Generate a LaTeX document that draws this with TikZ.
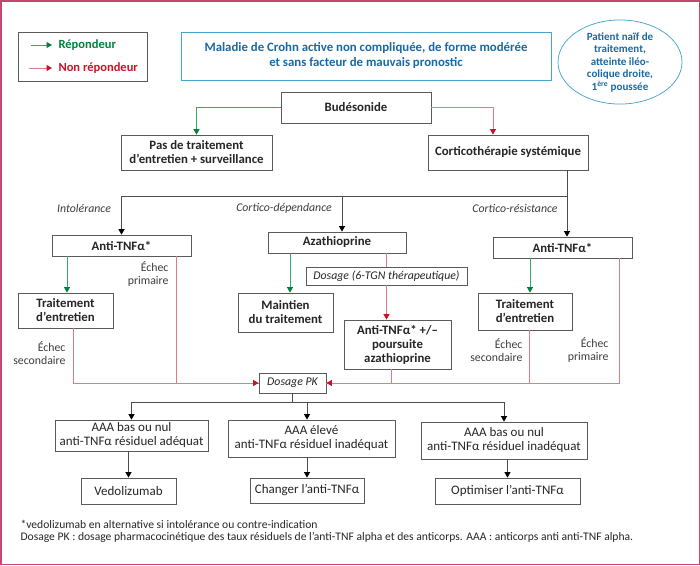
\documentclass[tikz,border=0pt]{standalone}
\usepackage{fontspec}
\setmainfont{Carlito}
\usetikzlibrary{arrows.meta, positioning, shapes.geometric, calc}

\definecolor{framecol}{RGB}{200,70,110}
\definecolor{boxgray}{RGB}{90,90,90}
\definecolor{titleline}{RGB}{70,165,205}
\definecolor{titletext}{RGB}{25,105,165}
\definecolor{greenline}{RGB}{60,165,100}
\definecolor{greentip}{RGB}{0,130,60}
\definecolor{redline}{RGB}{230,120,135}
\definecolor{redtip}{RGB}{200,20,40}
\definecolor{labtext}{RGB}{60,60,60}

\begin{document}
\begin{tikzpicture}[x=1pt,y=-1pt,>={Triangle[width=6pt,length=5.5pt]},
    box/.style={draw=boxgray,fill=white,line width=0.75pt,align=center,inner sep=0pt,
      text=black!85,font=\bfseries\fontsize{12.8}{14}\selectfont},
    res/.style={box,font=\fontsize{13}{14}\selectfont},
    dos/.style={box,font=\itshape\fontsize{11.8}{12}\selectfont},
    lab/.style={font=\itshape\fontsize{11.8}{12}\selectfont,text=labtext},
    ech/.style={anchor=east,align=right,font=\fontsize{11.8}{12.5}\selectfont,text=labtext},
    gline/.style={draw=greenline,line width=0.9pt,-{Triangle[width=6pt,length=5.5pt,color=greentip]}},
    rline/.style={draw=redline,line width=0.9pt},
    rarr/.style={rline,-{Triangle[width=6pt,length=5.5pt,color=redtip]}},
    kline/.style={draw=black!70,line width=0.9pt},
    karr/.style={kline,-{Triangle[width=6pt,length=5.5pt,color=black]}}]

    % frame of the figure
    \useasboundingbox (0,0) rectangle (700,565);
    \draw[framecol,line width=1.5pt] (0.75,0.75) rectangle (699.25,564.25);

    % legend
    \node[box,minimum width=129pt,minimum height=49pt] (leg) at (82.5,56.5) {};
    \node[anchor=west,font=\bfseries\fontsize{12.5}{13.5}\selectfont,text=greentip] (lgr) at (55,45) {Répondeur};
    \node[anchor=west,font=\bfseries\fontsize{12.5}{13.5}\selectfont,text=redtip] (lrd) at (55,68) {Non répondeur};
    \draw[gline] ([xshift=-24pt]lgr.west) -- ([xshift=-3pt]lgr.west);
    \draw[rarr] ([xshift=-26pt]lrd.west) -- ([xshift=-3pt]lrd.west);

    % title and patient
    \node[box,draw=titleline,text=titletext,minimum width=370pt,minimum height=48pt,
      font=\bfseries\fontsize{12.8}{15}\selectfont] (title) at (366,56)
      {Maladie de Crohn active non compliquée, de forme modérée\\et sans facteur de mauvais pronostic};
    \node[ellipse,draw=titleline,line width=0.75pt,text=titletext,minimum width=124pt,minimum height=78pt,
      inner sep=0pt,align=center,font=\bfseries\fontsize{11}{12.5}\selectfont] (pat) at (620,62)
      {Patient naïf de\\traitement,\\atteinte iléo-\\colique droite,\\1\textsuperscript{ère} poussée};

    % first line of treatment
    \node[box,minimum width=150pt,minimum height=31pt] (bud) at (356,107.5) {Budésonide};
    \node[box,minimum width=151pt,minimum height=35pt] (pas) at (196.5,152.5) {Pas de traitement\\d’entretien + surveillance};
    \node[box,minimum width=160pt,minimum height=35pt] (cort) at (508,152.5) {Corticothérapie systémique};
    \draw[gline] (bud.west) -| (pas.north);
    \draw[rarr] (bud.east) -| ([xshift=-15pt]cort.north);

    % second line of treatment
    \node[box,minimum width=139pt,minimum height=21pt] (atnfL) at (121.5,245.5) {Anti-TNFα*};
    \node[box,minimum width=138pt,minimum height=21pt] (aza) at (337,242.5) {Azathioprine};
    \node[box,minimum width=139pt,minimum height=21pt] (atnfR) at (562.5,247.5) {Anti-TNFα*};
    \coordinate (split) at (567,196);
    \draw[kline] (cort.south -| split) -- (split);
    \draw[karr] (split) -| (atnfL.north);
    \draw[karr] (split) -| ([xshift=5pt]aza.north);
    \draw[karr] (split) -- (split |- atnfR.north);
    \node[lab] (intol) at (84,208) {Intolérance};
    \node[lab] (cdep) at (284,208) {Cortico-dépendance};
    \node[lab] (cres) at (515,208) {Cortico-résistance};

    % left branch
    \node[box,minimum width=95pt,minimum height=35pt] (entL) at (65.5,310.5) {Traitement\\d’entretien};
    \draw[gline] ([xshift=1.5pt]entL.north |- atnfL.south) -- ([xshift=1.5pt]entL.north);

    % middle branch
    \node[box,minimum width=95pt,minimum height=39pt] (maint) at (285.5,312.5) {Maintien\\du traitement};
    \node[dos,minimum width=161pt,minimum height=18pt] (tgn) at (386.5,276) {Dosage (6-TGN thérapeutique)};
    \node[box,minimum width=107pt,minimum height=49pt] (atnfaza) at (397.5,344.5) {Anti-TNFα* +/–\\poursuite\\azathioprine};
    \draw[gline] ([xshift=4.5pt]maint.north |- aza.south) -- ([xshift=4.5pt]maint.north);
    \draw[rline] (tgn.north |- aza.south) -- (tgn.north);
    \draw[rarr] (tgn.south) -- (tgn.south |- atnfaza.north);

    % right branch
    \node[box,minimum width=94pt,minimum height=37pt] (entR) at (525,311.5) {Traitement\\d’entretien};
    \draw[gline] ([xshift=5pt]entR.north |- atnfR.south) -- ([xshift=5pt]entR.north);

    % failures go to the dosage
    \node[dos,minimum width=67pt,minimum height=20pt] (pk) at (292.5,383) {Dosage PK};
    \draw[rline] ([xshift=7.5pt]entL.south) |- (pk.west);
    \draw[rarr] ([xshift=54.5pt]atnfL.south) |- (pk.west);
    \draw[rline] ([xshift=-6.5pt]atnfaza.south) |- (pk.east);
    \draw[rline] ([xshift=4pt]entR.south) |- (pk.east);
    \draw[rarr] ([xshift=56.5pt]atnfR.south) |- (pk.east);
    \node[ech] (e1) at (69,353) {Échec\\secondaire};
    \node[ech] (e2) at (172,274) {Échec\\primaire};
    \node[ech] (e3) at (526,350) {Échec\\secondaire};
    \node[ech] (e4) at (612,350) {Échec\\primaire};

    % results of the dosage
    \node[res,minimum width=153pt,minimum height=31pt] (aaa1) at (131.5,435.5) {AAA bas ou nul\\anti-TNFα résiduel adéquat};
    \node[res,minimum width=167pt,minimum height=37pt] (aaa2) at (311.5,438.5) {AAA élevé\\anti-TNFα résiduel inadéquat};
    \node[res,minimum width=166pt,minimum height=37pt] (aaa3) at (504,440.5) {AAA bas ou nul\\anti-TNFα résiduel inadéquat};
    \node[res,minimum width=95pt,minimum height=26pt] (vedo) at (128.5,491) {Vedolizumab};
    \node[res,minimum width=114pt,minimum height=25pt] (chang) at (307,490.5) {Changer l’anti-TNFα};
    \node[res,minimum width=145pt,minimum height=26pt] (optim) at (507.5,491) {Optimiser l’anti-TNFα};
    \coordinate (pks) at (292.5,402);
    \draw[kline] (pk.south) -- (pks);
    \draw[karr] (pks) -| (aaa1.north);
    \draw[karr] (pks) -| ([xshift=-4.5pt]aaa2.north);
    \draw[karr] (pks) -| (aaa3.north);
    \foreach \a/\b in {aaa1/vedo, aaa2/chang, aaa3/optim}
      \draw[karr] (\a.south -| \b.north) -- (\b.north);

    % footnotes
    \node[anchor=west,font=\fontsize{11.6}{12}\selectfont,text=black!85] (fn1) at (17,524)
      {*vedolizumab en alternative si intolérance ou contre-indication};
    \node[anchor=west,font=\fontsize{11.6}{12}\selectfont,text=black!85] (fn2) at (17,537)
      {Dosage PK : dosage pharmacocinétique des taux résiduels de l’anti-TNF alpha et des anticorps. AAA : anticorps anti anti-TNF alpha.};
\end{tikzpicture}
\end{document}
